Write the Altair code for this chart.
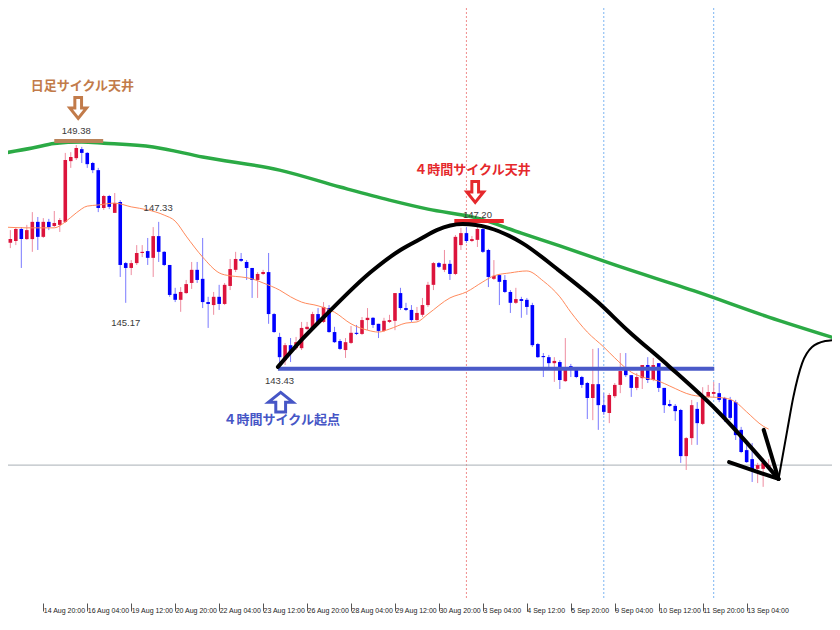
import altair as alt
import pandas as pd

# ---------------- candle data (4-hour bars, index 0 = first full bar) ----------------
bar_index = list(range(-1, 139))
opens = [
    147.43, 146.77, 146.82, 147.14, 146.87, 146.87, 147.33, 146.93, 147.33, 147.22,
    147.25, 147.33, 148.95, 149.03, 149.27, 149.17, 148.90, 148.71, 147.70, 148.02,
    147.57, 147.86, 146.23, 146.10, 146.23, 146.50, 146.55, 146.37, 146.95, 146.53,
    146.18, 145.41, 145.25, 145.43, 145.70, 146.05, 145.81, 145.19, 145.11, 145.33,
    145.14, 145.62, 146.05, 146.34, 146.26, 146.10, 145.78, 145.94, 145.99, 144.87,
    144.26, 143.64, 144.04, 143.96, 143.96, 144.47, 144.50, 144.87, 144.66, 145.03,
    144.39, 144.15, 143.91, 144.10, 144.37, 144.34, 144.71, 144.77, 144.61, 144.42,
    144.66, 144.69, 145.43, 145.03, 144.98, 144.71, 144.85, 145.11, 145.65, 146.23,
    146.05, 146.21, 145.94, 146.71, 147.03, 146.82, 146.85, 147.14, 146.58, 145.81,
    145.91, 145.78, 145.46, 145.17, 145.27, 145.25, 145.11, 144.07, 143.75, 143.72,
    143.56, 143.59, 143.08, 143.48, 143.40, 143.19, 143.03, 142.63, 143.00, 142.44,
    142.23, 142.68, 142.98, 143.43, 143.24, 142.90, 143.16, 143.51, 143.11, 143.56,
    142.90, 142.47, 142.42, 142.31, 141.08, 141.56, 142.34, 141.94, 142.66, 142.74,
    142.76, 142.63, 142.58, 142.52, 141.78, 141.24, 141.00, 140.74, 140.74, 140.79,
]
highs = [
    147.51, 147.11, 147.19, 147.19, 147.25, 147.59, 147.46, 147.43, 147.41, 147.62,
    147.43, 149.17, 149.19, 149.38, 149.33, 149.19, 148.93, 148.77, 148.05, 148.05,
    148.10, 147.91, 146.26, 146.31, 146.71, 146.71, 146.90, 147.19, 147.33, 146.55,
    146.18, 145.57, 145.59, 145.78, 146.26, 146.26, 146.90, 145.33, 145.46, 145.65,
    145.70, 146.34, 146.53, 146.50, 146.31, 146.10, 145.99, 146.05, 146.50, 144.90,
    144.37, 144.10, 144.23, 144.26, 144.66, 144.66, 144.93, 145.03, 145.19, 145.11,
    144.53, 144.20, 144.23, 144.55, 144.58, 144.79, 145.03, 144.79, 144.61, 144.77,
    144.85, 145.43, 145.57, 145.17, 145.11, 145.06, 145.30, 145.73, 146.26, 146.26,
    146.58, 146.31, 146.98, 147.17, 147.19, 146.95, 147.20, 147.17, 146.61, 146.31,
    145.94, 145.91, 145.51, 145.57, 145.33, 145.30, 145.17, 144.10, 143.83, 143.78,
    143.72, 143.64, 144.23, 143.54, 143.43, 143.22, 143.06, 143.94, 143.96, 142.76,
    142.76, 143.03, 143.83, 143.83, 143.24, 143.30, 143.51, 143.72, 143.70, 143.56,
    142.90, 142.58, 142.47, 142.34, 141.59, 142.58, 142.52, 142.92, 142.98, 143.06,
    143.03, 142.66, 142.66, 142.58, 141.86, 141.43, 141.43, 140.90, 141.03, 141.00,
]
lows = [
    146.63, 146.63, 146.71, 146.10, 146.85, 146.53, 146.58, 146.90, 147.11, 147.19,
    147.06, 147.30, 148.77, 148.98, 148.90, 148.77, 148.63, 147.59, 147.65, 147.67,
    147.57, 145.86, 145.17, 145.91, 146.18, 146.39, 146.18, 145.86, 146.26, 146.15,
    145.33, 145.19, 144.93, 145.41, 145.54, 145.70, 145.03, 144.50, 144.85, 144.98,
    145.11, 145.51, 145.99, 146.26, 145.78, 145.30, 145.30, 145.91, 144.61, 144.37,
    143.43, 143.51, 143.59, 143.91, 143.91, 144.44, 144.44, 144.58, 144.63, 144.37,
    144.10, 143.91, 143.70, 144.07, 144.31, 144.31, 144.44, 144.50, 144.23, 144.39,
    144.63, 144.44, 144.98, 144.95, 144.66, 144.69, 144.79, 145.06, 145.51, 146.10,
    145.99, 145.78, 145.91, 146.58, 146.77, 146.79, 146.66, 146.50, 145.59, 145.78,
    145.11, 145.43, 144.90, 145.14, 144.77, 144.85, 143.99, 143.70, 143.19, 143.43,
    143.06, 142.87, 143.06, 143.19, 143.16, 142.90, 142.07, 142.04, 141.78, 142.18,
    141.96, 142.63, 142.76, 143.19, 142.66, 142.84, 142.87, 143.03, 143.08, 142.79,
    142.23, 142.39, 142.02, 140.90, 140.71, 141.38, 141.38, 141.91, 142.63, 142.66,
    142.52, 141.99, 142.04, 141.51, 141.16, 140.90, 140.39, 140.36, 140.26, 140.71,
]
closes = [
    146.77, 146.87, 147.14, 146.87, 147.11, 147.33, 146.93, 147.33, 147.19, 147.30,
    147.38, 148.98, 149.06, 149.30, 149.17, 148.87, 148.71, 147.70, 148.02, 147.73,
    147.83, 146.18, 146.10, 146.23, 146.50, 146.53, 146.37, 146.95, 146.53, 146.18,
    145.38, 145.25, 145.46, 145.67, 146.05, 145.78, 145.19, 145.14, 145.33, 145.14,
    145.65, 146.07, 146.34, 146.29, 146.10, 145.78, 145.94, 145.99, 144.87, 144.39,
    143.72, 144.04, 143.86, 144.12, 144.50, 144.53, 144.87, 144.63, 145.06, 144.39,
    144.12, 143.94, 144.12, 144.37, 144.34, 144.71, 144.77, 144.58, 144.42, 144.69,
    144.71, 145.43, 145.03, 144.98, 144.71, 144.90, 145.11, 145.65, 146.23, 146.13,
    146.21, 145.94, 146.93, 147.03, 146.82, 146.87, 147.14, 146.53, 145.86, 145.89,
    145.73, 145.46, 145.17, 145.27, 145.22, 145.06, 144.04, 143.72, 143.72, 143.56,
    143.62, 143.11, 143.40, 143.43, 143.19, 142.98, 142.63, 143.00, 142.44, 142.26,
    142.71, 142.98, 143.35, 143.24, 142.90, 143.19, 143.51, 143.11, 143.51, 142.90,
    142.44, 142.42, 142.28, 141.08, 141.56, 142.44, 141.96, 142.66, 142.79, 142.79,
    142.58, 142.10, 142.10, 141.64, 141.19, 140.92, 140.71, 140.84, 140.90, 140.84,
]

# time-axis labels (every 8 bars)
tick_bars = [6, 14, 22, 30, 38, 46, 54, 62, 70, 78, 86, 94, 102, 110, 118, 126, 134]
tick_labels = ["14 Aug 20:00", "16 Aug 04:00", "19 Aug 12:00", "20 Aug 20:00", "22 Aug 04:00",
               "23 Aug 12:00", "26 Aug 20:00", "28 Aug 04:00", "29 Aug 12:00", "30 Aug 20:00",
               "3 Sep 04:00", "4 Sep 12:00", "5 Sep 20:00", "9 Sep 04:00", "10 Sep 12:00",
               "11 Sep 20:00", "13 Sep 04:00"]

# moving average (orange)
ma_index = [-1, 3, 8, 10, 12, 14, 16, 19, 22, 25, 28, 30, 32, 35, 38, 40, 42, 44, 46, 49,
            51, 53, 56, 59, 62, 65, 67, 69, 72, 74, 76, 80, 83, 86, 88, 91, 94, 97, 100, 102,
            105, 108, 110, 113, 115, 118, 120, 124, 127, 130, 132, 134, 137, 138]
ma_value = [147.19, 147.17, 147.17, 147.33, 147.57, 147.75, 147.78, 147.83, 147.73, 147.65,
            147.51, 147.35, 146.95, 146.39, 145.97, 145.89, 145.86, 145.81, 145.70, 145.51,
            145.33, 145.19, 145.09, 144.92, 144.61, 144.44, 144.39, 144.47, 144.63, 144.66,
            144.87, 145.30, 145.46, 145.73, 145.89, 145.97, 146.02, 145.75, 145.33, 144.92,
            144.39, 143.99, 143.70, 143.32, 143.19, 143.08, 142.95, 142.71, 142.66, 142.63,
            142.52, 142.26, 141.88, 141.80]

# daily cycle curve (green)
green_index = [-1, 4, 8, 13, 17, 26, 35, 49, 60, 69, 76, 85, 93, 100, 110, 125, 138, 150]
green_value = [149.17, 149.30, 149.42, 149.46, 149.43, 149.33, 149.06, 148.71, 148.26, 147.91,
               147.67, 147.43, 147.03, 146.69, 146.18, 145.46, 144.79, 144.23]

# 4-hour cycle arc (black) and arrow head
arc_index = [48.7, 53.0, 57.8, 65.6, 71.0, 74.6, 77.6, 82.3, 87.1, 93.1, 99.7, 106.9, 112.3,
             120.0, 128.5, 139.8]
arc_value = [143.46, 144.18, 144.90, 145.99, 146.58, 146.87, 147.11, 147.27, 147.17, 146.77,
             146.05, 145.19, 144.44, 143.46, 142.31, 140.47]
head_from_index = [137.1, 130.8]
head_from_value = [141.78, 140.92]
head_to_index = [139.8, 139.8]
head_to_value = [140.47, 140.47]

# rebound curve (thin black)
rebound_index = [139.8, 141.4, 142.5, 144.1, 145.9, 148.3, 150.1]
rebound_value = [140.47, 141.78, 142.66, 143.56, 143.99, 144.15, 144.18]

# horizontal level segments
level_start = [8.0, 80.8, 48.7]
level_end = [16.9, 89.8, 128.1]
level_price = [149.49, 147.35, 143.41]
level_color = ["#B9835A", "#E8262A", "#4A5AC8"]

# dotted vertical separators and current-price line
vline_index = [83, 108, 128]
vline_color = ["#F08C8C", "#7DB6F2", "#7DB6F2"]
current_price = [140.84]

# price labels
plabel_index = [12.0, 26.9, 21.0, 49.0, 85.0]
plabel_value = [149.75, 147.70, 144.63, 143.08, 147.51]
plabel_text = ["149.38", "147.33", "145.17", "143.43", "147.20"]

# Japanese annotations
note_index = [13.1, 84.1, 49.4]
note_value = [150.95, 148.71, 142.04]
note_text = ["日足サイクル天井", "４時間サイクル天井", "４時間サイクル起点"]
note_color = ["#C27B4A", "#E5282C", "#4656C6"]

down_arrow_index = [12.35, 84.6]
down_arrow_value = [150.37, 148.13]
down_arrow_color = ["#C27B4A", "#E5282C"]
up_arrow_index = [49.2]
up_arrow_value = [142.52]
up_arrow_color = ["#4656C6"]

# ---------------- chart ----------------
xscale = alt.Scale(domain=[0.4854, 148.62], nice=False, zero=False)
yscale = alt.Scale(domain=[137.241, 153.036], nice=False, zero=False)
label_expr = "' ' + [" + ",".join("'%s'" % t for t in tick_labels) + "][(datum.value - 6) / 8]"
xaxis = alt.Axis(values=tick_bars, labelExpr=label_expr, title=None, grid=False, domain=False,
                 offset=3, tickSize=8, tickColor="#555555", labelAlign="left", labelBaseline="top",
                 labelPadding=-5, labelFont="Liberation Sans", labelFontSize=7,
                 labelColor="#222222", labelOverlap=False, labelFlush=False)


def X(f):
    return alt.X(f, type="quantitative", scale=xscale, axis=xaxis)


def Y(f):
    return alt.Y(f, type="quantitative", scale=yscale, axis=None)


candles = pd.DataFrame({"k": bar_index, "open": opens, "high": highs, "low": lows, "close": closes})
up = "datum.close >= datum.open"

vlines = alt.Chart(pd.DataFrame({"k": vline_index, "c": vline_color})).mark_rule(
    strokeWidth=1, strokeDash=[2, 2]).encode(x=X("k"), color=alt.Color("c:N", scale=None))
hline = alt.Chart(pd.DataFrame({"p": current_price})).mark_rule(
    color="#A8AFB6", strokeWidth=1).encode(y=Y("p"))

wicks = alt.Chart(candles).mark_rule(strokeWidth=1, clip=True).encode(
    x=X("k"), y=Y("low"), y2="high",
    color=alt.condition(up, alt.value("#EE8DA0"), alt.value("#7A7AFF")))
bodies = alt.Chart(candles).mark_bar(size=3.6, clip=True).encode(
    x=X("k"), y=Y("open"), y2="close",
    color=alt.condition(up, alt.value("#DC143C"), alt.value("#0000FF")))

ma = alt.Chart(pd.DataFrame({"k": ma_index, "v": ma_value})).mark_line(
    color="#FF8A5C", strokeWidth=1, interpolate="monotone", clip=True).encode(x=X("k"), y=Y("v"))

green = alt.Chart(pd.DataFrame({"k": green_index, "v": green_value})).mark_line(
    color="#2BAA45", strokeWidth=3.5, interpolate="monotone", clip=True).encode(x=X("k"), y=Y("v"))

levels = alt.Chart(pd.DataFrame({"k1": level_start, "k2": level_end, "p": level_price,
                                 "c": level_color})).mark_rule(strokeWidth=4).encode(
    x=X("k1"), x2="k2", y=Y("p"), color=alt.Color("c:N", scale=None))

arc = alt.Chart(pd.DataFrame({"k": arc_index, "v": arc_value})).mark_line(
    color="black", strokeWidth=4, interpolate="monotone", strokeCap="round").encode(x=X("k"), y=Y("v"))
head = alt.Chart(pd.DataFrame({"k1": head_from_index, "p1": head_from_value,
                               "k2": head_to_index, "p2": head_to_value})).mark_rule(
    color="black", strokeWidth=4, strokeCap="round").encode(x=X("k1"), y=Y("p1"), x2="k2", y2="p2")
rebound = alt.Chart(pd.DataFrame({"k": rebound_index, "v": rebound_value})).mark_line(
    color="black", strokeWidth=2, interpolate="monotone", clip=True).encode(x=X("k"), y=Y("v"))

plabels = alt.Chart(pd.DataFrame({"k": plabel_index, "v": plabel_value, "t": plabel_text})).mark_text(
    font="Liberation Sans", fontSize=9.5, color="#3A3A3A").encode(x=X("k"), y=Y("v"), text="t:N")

notes = alt.Chart(pd.DataFrame({"k": note_index, "v": note_value, "t": note_text, "c": note_color})).mark_text(
    font="Noto Sans CJK JP", fontSize=13, fontWeight="bold").encode(
    x=X("k"), y=Y("v"), text="t:N", color=alt.Color("c:N", scale=None))

down_path = "M-0.32,-1L0.32,-1L0.32,0L0.8,0L0,1L-0.8,0L-0.32,0Z"
up_path = "M-0.4,0.8L0.4,0.8L0.4,0L1,0L0,-0.8L-1,0L-0.4,0Z"
down_arrows = alt.Chart(pd.DataFrame({"k": down_arrow_index, "v": down_arrow_value,
                                      "c": down_arrow_color})).mark_point(
    shape=down_path, size=440, filled=False, strokeWidth=3, opacity=1).encode(
    x=X("k"), y=Y("v"), color=alt.Color("c:N", scale=None))
up_arrows = alt.Chart(pd.DataFrame({"k": up_arrow_index, "v": up_arrow_value,
                                    "c": up_arrow_color})).mark_point(
    shape=up_path, size=600, filled=False, strokeWidth=3, opacity=1).encode(
    x=X("k"), y=Y("v"), color=alt.Color("c:N", scale=None))

chart = alt.layer(
    vlines, hline, wicks, bodies, ma, green, levels, arc, head, rebound,
    plabels, notes, down_arrows, up_arrows
).properties(
    width=824, height=592, background="white",
    padding={"left": 0, "top": 0, "right": 0, "bottom": 18},
    autosize=alt.AutoSizeParams(type="none"),
).configure_view(strokeWidth=0)

chart.save("out.html", embed_options={"renderer": "svg", "actions": False})
